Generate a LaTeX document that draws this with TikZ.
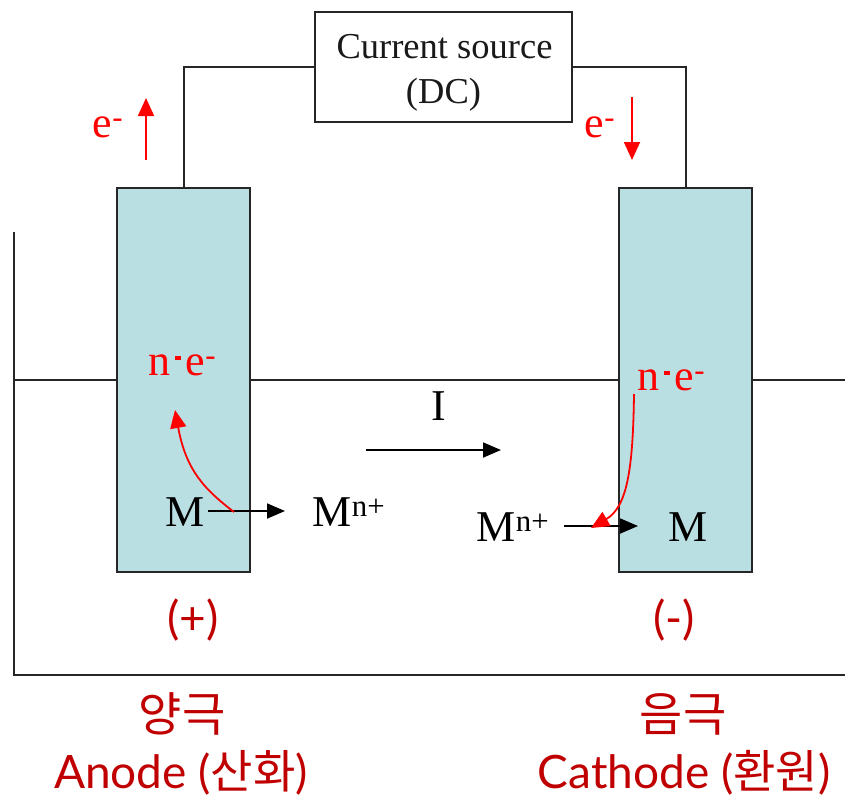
\documentclass[tikz,border=0pt]{standalone}
\usepackage{fontspec}
\setmainfont{Liberation Serif}
\newfontfamily\lblfont{Lato}
\newfontfamily\krfont{Noto Sans CJK KR}
\usetikzlibrary{arrows.meta}
\definecolor{electrode}{HTML}{BADFE3}
\definecolor{darkred}{HTML}{C00000}
\definecolor{elec}{HTML}{FF0000}
\newcommand{\nedot}{n\kern4pt\rule[15pt]{6pt}{4pt}\kern5pt e\textsuperscript{-}}
\tikzset{
  x=1pt,y=-1pt,
  wire/.style={draw=black!85,line width=2pt},
  electrodebox/.style={draw=black!85,line width=2pt,fill=electrode,minimum width=133pt,minimum height=384pt,inner sep=0pt},
  srcbox/.style={draw=black!85,line width=2pt,fill=white,minimum width=257pt,minimum height=110pt,inner sep=0pt},
  srctxt/.style={inner sep=0pt,font=\fontsize{36.5}{40}\selectfont,text=black!90},
  term/.style={inner sep=0pt,font=\fontsize{44}{48}\selectfont,text=black},
  rtxt/.style={inner sep=0pt,font=\fontsize{44}{48}\selectfont,text=elec},
  lbl/.style={inner sep=0pt,font=\lblfont\fontsize{46}{50}\selectfont,text=darkred},
  krlbl/.style={inner sep=0pt,font=\krfont\fontsize{47}{50}\selectfont,text=darkred},
  blkarrow/.style={draw=black,line width=1.8pt,-{Triangle[length=18pt,width=15pt]}},
  redarrow/.style={draw=elec,line width=1.8pt,-{Triangle[length=18pt,width=16pt]}},
}
\begin{document}
\begin{tikzpicture}
\useasboundingbox (0,0) rectangle (845,798);
% electrolyte tank
\coordinate (tl) at (14,232);
\coordinate (bl) at (14,675);
\coordinate (br) at (845,675);
\coordinate (sl) at (14,380);
\coordinate (sr) at (845,380);
\draw[wire] (tl) -- (bl) -- (br);
\draw[wire] (sl) -- (sr);
% electrodes
\node[electrodebox] (anode) at (183.5,379.5) {};
\node[electrodebox] (cathode) at (685.5,379.5) {};
% source
\node[srcbox] (src) at (443.5,67) {};
\node[srctxt,anchor=base] (s1) at (444.5,58) {Current source};
\node[srctxt,anchor=base] (s2) at (443.5,103) {(DC)};
\draw[wire] (src.west) -- (183.5,67) -- (anode.north);
\draw[wire] (src.east) -- (685.5,67) -- (cathode.north);
% wire arrows
\coordinate (ua1) at (146,160);
\coordinate (ua2) at (146,98);
\coordinate (da1) at (632,97);
\coordinate (da2) at (632,160);
\draw[redarrow] (ua1) -- (ua2);
\draw[redarrow] (da1) -- (da2);
\node[rtxt,anchor=base] (e1) at (108,137) {e\textsuperscript{-}};
\node[rtxt,anchor=base] (e2) at (600,137) {e\textsuperscript{-}};
% interior labels
\node[rtxt,anchor=base] (ne1) at (182.5,375) {\nedot};
\node[rtxt,anchor=base] (ne2) at (671.5,390) {\nedot};
\node[term,anchor=base] (M1) at (185,526) {M};
\node[term,anchor=base] (M2) at (349,526) {M\textsuperscript{n+}};
\node[term,anchor=base] (M3) at (513,541) {M\textsuperscript{n+}};
\node[term,anchor=base] (M4) at (688,541) {M};
\node[term,anchor=base] (I) at (439,420) {I};
% current arrow
\coordinate (i1) at (366,450);
\coordinate (i2) at (501,450);
\draw[blkarrow] (i1) -- (i2);
% ion arrows
\coordinate (a1) at (208,511);
\coordinate (a2) at (285,511);
\draw[blkarrow] (a1) -- (a2);
\coordinate (c1) at (564,526);
\coordinate (c2) at (638,526);
\draw[blkarrow] (c1) -- (c2);
% electron curves
\coordinate (r1) at (234,512);
\coordinate (r2) at (175,410);
\draw[redarrow] (r1) .. controls (204,489) and (186,470) .. (r2);
\coordinate (r3) at (634,394);
\coordinate (r4) at (591,528);
\draw[redarrow] (r3) .. controls (633,470) and (627,507) .. (r4);
% bottom labels
\node[lbl,anchor=base] (plus) at (193,634) {(+)};
\node[lbl,anchor=base] (minus) at (674,634) {(-)};
\node[krlbl,anchor=base] (k1) at (182,731) {양극};
\node[krlbl,anchor=base] (k2) at (683,731) {음극};
\node[lbl,anchor=base] (an) at (181,788) {Anode ({\krfont 산화})};
\node[lbl,anchor=base] (ca) at (684,788) {Cathode ({\krfont 환원})};
\end{tikzpicture}
\end{document}
